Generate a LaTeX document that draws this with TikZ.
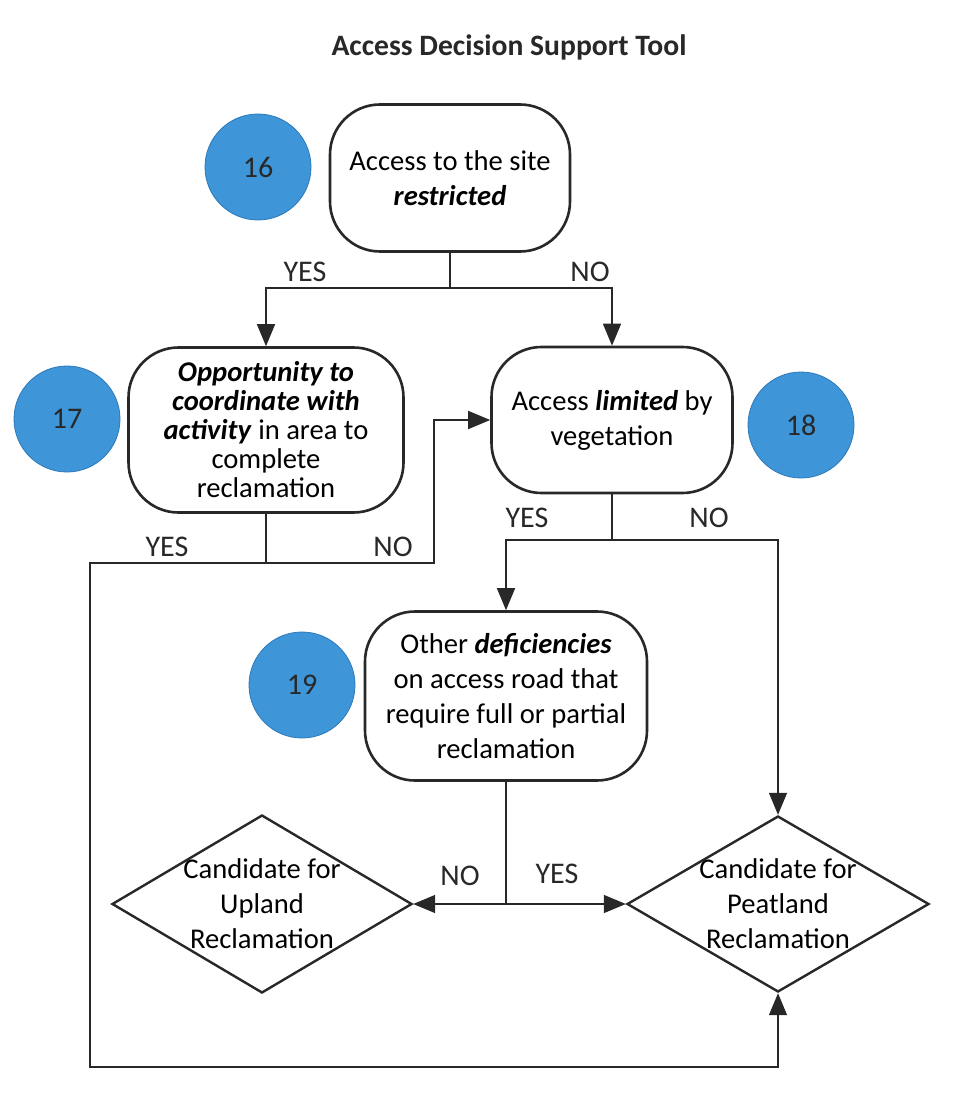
\documentclass[tikz,border=0pt]{standalone}
\usepackage{fontspec}
\setmainfont{Carlito}
\usepackage{tikz}
\usetikzlibrary{shapes,arrows.meta,positioning}
\definecolor{stepblue}{RGB}{62,150,216}
\definecolor{stepedge}{RGB}{45,120,185}
\definecolor{ink}{RGB}{40,40,40}
\tikzstyle{question} = [draw=ink, line width=1.3pt, rectangle, rounded corners=25pt, align=center, inner sep=2pt]
\tikzstyle{candidate} = [draw=ink, line width=1.2pt, diamond, minimum width=150pt, minimum height=89pt, inner sep=0pt]
\tikzstyle{stepnum} = [circle, fill=stepblue, draw=stepedge, line width=0.4pt, minimum size=53pt, inner sep=0pt, text=ink, font=\fontsize{15}{17}\selectfont]
\tikzstyle{answer} = [text=ink, font=\fontsize{15}{17}\selectfont]
\tikzstyle{flow} = [draw=ink, line width=0.7pt]
\tikzstyle{flowarrow} = [flow, -{Triangle[length=11pt,width=9pt]}]

\begin{document}
\begin{tikzpicture}[x=0.5pt, y=-0.5pt, font=\fontsize{14.3}{17.5}\selectfont]
	\useasboundingbox[fill=white] (0,0) rectangle (954,1112);
	\node[font=\fontsize{14.8}{17}\selectfont\bfseries, text=ink] (title) at (509,47) {Access Decision Support Tool};

	% questions
	\node[question, minimum width=120pt, minimum height=73.5pt] (restricted) at (450,178)
		{Access to the site\\ \textbf{\textit{restricted}}};
	\node[question, minimum width=137.5pt, minimum height=82.5pt, font=\fontsize{14.3}{14.5}\selectfont] (coordinate) at (266,430)
		{\textbf{\textit{Opportunity to}}\\ \textbf{\textit{coordinate with}}\\ \textbf{\textit{activity}} in area to\\ complete\\ reclamation};
	\node[question, minimum width=120.5pt, minimum height=73pt] (limited) at (612,420)
		{Access \textbf{\textit{limited}} by\\ vegetation};
	\node[question, minimum width=141pt, minimum height=84.5pt] (deficiencies) at (506,696)
		{Other \textbf{\textit{deficiencies}}\\ on access road that\\ require full or partial\\ reclamation};

	% step numbers
	\node[stepnum] (s16) at (258,167) {16};
	\node[stepnum] (s17) at (67,419) {17};
	\node[stepnum] (s18) at (801,425) {18};
	\node[stepnum] (s19) at (302,685) {19};

	% outcomes
	\node[candidate, label={[align=center]center:Candidate for\\ Upland\\ Reclamation}] (upland) at (262,904) {};
	\node[candidate, minimum width=151pt, minimum height=88pt, label={[align=center]center:Candidate for\\ Peatland\\ Reclamation}] (peatland) at (778,904) {};

	% connectors
	\coordinate (j16) at (450,288);
	\coordinate (j17) at (266,563);
	\coordinate (j18) at (612,540);
	\coordinate (j19) at (506,904);
	\coordinate (yesturn) at (90,1067);
	\coordinate (noturn) at (434,420);

	\draw[flow] (restricted) -- (j16);
	\draw[flowarrow] (j16) -| (coordinate);
	\draw[flowarrow] (j16) -| (limited);

	\draw[flow] (coordinate) -- (j17);
	\draw[flowarrow] (j17) -| (yesturn) -| (peatland);
	\draw[flowarrow] (j17) -| (noturn) -- (limited);

	\draw[flow] (limited) -- (j18);
	\draw[flowarrow] (j18) -| (deficiencies);
	\draw[flowarrow] (j18) -| (peatland);

	\draw[flow] (deficiencies) -- (j19);
	\draw[flowarrow] (j19) -- (upland);
	\draw[flowarrow] (j19) -- (peatland);

	% answers
	\node[answer] (yes16) at (305,272) {YES};
	\node[answer] (no16) at (590,272) {NO};
	\node[answer] (yes17) at (167,547) {YES};
	\node[answer] (no17) at (393,547) {NO};
	\node[answer] (yes18) at (527,518) {YES};
	\node[answer] (no18) at (709,518) {NO};
	\node[answer] (no19) at (460,876) {NO};
	\node[answer] (yes19) at (557,874) {YES};
\end{tikzpicture}
\end{document}
